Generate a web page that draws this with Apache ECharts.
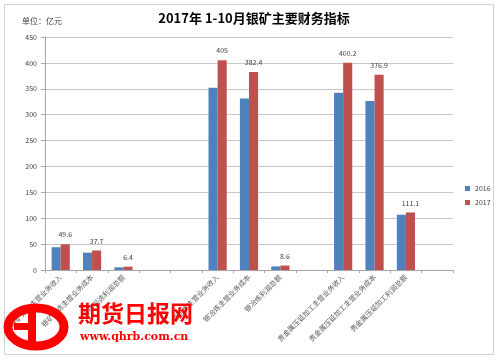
<!DOCTYPE html>
<html><head><meta charset="utf-8">
<script src="https://cdn.jsdelivr.net/npm/echarts@6/dist/echarts.min.js"></script>
<style>html,body{margin:0;padding:0;background:#fff}#c{width:500px;height:360px}</style>
</head><body><div id="c"></div>
<script>
const categories = ["银矿采选主营业务收入","银矿采选主营业务成本","银矿采选利润总额","","","银冶炼主营业务收入","银冶炼主营业务成本","银冶炼利润总额","","贵金属压延加工主营业务收入","贵金属压延加工主营业务成本","贵金属压延加工利润总额",""];
const values2016 = [44, 33.5, 5.2, null, null, 352, 331, 7, null, 342.4, 326.4, 106.8, null];
const values2017 = [49.6, 37.7, 6.4, null, null, 405, 382.4, 8.6, null, 400.2, 376.9, 111.1, null];
const yTicks = [0, 450, 50];

const chart = echarts.init(document.getElementById('c'), null, {renderer:'canvas'});
const font = 'Noto Sans CJK SC';
chart.setOption({
  backgroundColor:'#fff',
  animation:false,
  title:{text:'2017年 1-10月银矿主要财务指标', left:249, textAlign:'center', top:7,
    textStyle:{fontFamily:font, fontSize:13, fontWeight:'bold', color:'#000'}},
  legend:{orient:'vertical', left:460, top:180, itemWidth:5, itemHeight:5, itemGap:7,
    icon:'rect', textStyle:{fontSize:7, color:'#404040', fontFamily:font}, data:['2016','2017']},
  grid:{left:45, right:47, top:37, bottom:90},
  xAxis:{type:'category', data:categories,
    axisLine:{lineStyle:{color:'#A6A6A6'}},
    axisTick:{show:true, length:3, lineStyle:{color:'#A6A6A6'}},
    axisLabel:{interval:0, rotate:45, fontSize:7, color:'#595959', fontFamily:font, margin:6}},
  yAxis:{type:'value', min:yTicks[0], max:yTicks[1], interval:yTicks[2],
    axisLine:{show:true, lineStyle:{color:'#A6A6A6'}},
    axisTick:{show:true, length:4, lineStyle:{color:'#A6A6A6'}},
    splitLine:{lineStyle:{color:'#C8C8C8'}},
    axisLabel:{fontSize:7, color:'#404040', fontFamily:font, margin:8}},
  series:[
    {name:'2016', type:'bar', data:values2016, barGap:'0%', barCategoryGap:'42%',
      itemStyle:{color:'#4F81BD'}},
    {name:'2017', type:'bar', data:values2017, barGap:'0%', barCategoryGap:'42%',
      itemStyle:{color:'#C0504D'},
      label:{show:true, position:'top', fontSize:7, color:'#404040', fontFamily:font, distance:6}}
  ],
  graphic:[
    {type:'rect', shape:{x:4.5,y:4.5,width:489,height:350}, style:{fill:null, stroke:'#D0D0D0', lineWidth:1}, silent:true},
    {type:'text', left:22, top:17, style:{text:'单位：亿元', fontSize:8, fill:'#404040', fontFamily:font}},
    {type:'ellipse', shape:{cx:36, cy:327, rx:28, ry:19}, style:{fill:null, stroke:'#FF0000', lineWidth:9}, z:100},
    {type:'rect', shape:{x:28, y:306, width:8, height:42}, style:{fill:'#FF0000'}, z:100},
    {type:'rect', shape:{x:14, y:323, width:22, height:7}, style:{fill:'#FF0000'}, z:100},
    {type:'text', left:78, top:302, style:{text:'期货日报网', fontSize:23, fontWeight:'bold', fill:'#FF0000', fontFamily:'Noto Sans CJK SC'}, z:100},
    {type:'text', left:80, top:332, style:{text:'www.qhrb.com.cn', fontSize:11, fontWeight:'bold', fill:'#FF0000', fontFamily:'DejaVu Serif'}, z:100}
  ]
});
</script></body></html>
